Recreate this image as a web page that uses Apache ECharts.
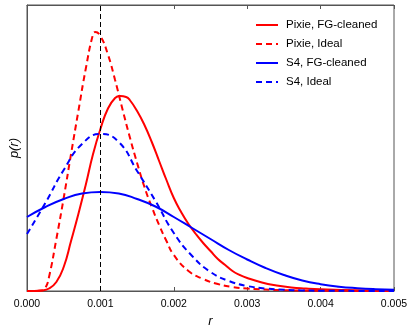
<!DOCTYPE html>
<html>
<head>
<meta charset="utf-8">
<script src="https://cdn.jsdelivr.net/npm/echarts@6/dist/echarts.min.js"></script>
<style>
html, body { margin: 0; padding: 0; background: #fff; }
#chart { width: 415px; height: 334px; }
</style>
</head>
<body>
<div id="chart"></div>
<script>
// r values (in units of 1e-3) and p(r), arbitrary units
const pixieFgR = [0, 0.1, 0.2, 0.3, 0.4, 0.5, 0.6, 0.7, 0.8, 0.9, 1.0, 1.1, 1.2, 1.27, 1.35, 1.4, 1.5, 1.6, 1.7, 1.8, 1.9, 2.0, 2.1, 2.2, 2.3, 2.4, 2.5, 2.6, 2.7, 2.8, 2.9, 3.0, 3.2, 3.4, 3.6, 3.8, 4.0, 4.5, 5.0]
const pixieFgP = [0, 0, 0.5, 2.5, 9, 24, 50, 77, 106, 137, 162, 182, 193, 195, 194, 191, 180, 166, 149, 130, 111, 93, 79, 67, 57, 48, 40, 32, 26, 20, 16, 13, 8.5, 5.5, 3.5, 2.5, 1.8, 0.8, 0.4]

const pixieIdR = [0, 0.1, 0.2, 0.25, 0.3, 0.4, 0.5, 0.6, 0.7, 0.8, 0.9, 0.93, 1.0, 1.1, 1.2, 1.3, 1.4, 1.5, 1.6, 1.7, 1.8, 1.9, 2.0, 2.2, 2.4, 2.6, 2.8, 3.0, 3.5, 4.0, 5.0]
const pixieIdP = [0, 0, 0.5, 3, 14, 52, 93, 137, 180, 222, 257, 259, 255, 237, 211, 182, 154, 128, 104, 84, 66, 50, 36, 20, 12, 7, 4, 2.5, 0.8, 0.3, 0]

const s4FgR = [0, 0.25, 0.5, 0.75, 1.0, 1.25, 1.5, 1.75, 2.0, 2.25, 2.5, 2.75, 3.0, 3.25, 3.5, 3.75, 4.0, 4.25, 4.5, 4.75, 5.0]
const s4FgP = [74, 84, 92, 97.5, 99, 97.5, 92, 84.5, 74, 63, 52, 41, 31.5, 23, 16, 10.5, 6.8, 4.3, 2.8, 1.8, 1.2]

const s4IdR = [0, 0.25, 0.5, 0.75, 1.0, 1.25, 1.5, 1.75, 2.0, 2.25, 2.5, 2.75, 3.0, 3.25, 3.5, 3.75, 4.0, 4.5, 5.0]
const s4IdP = [57, 88, 121, 147, 157, 149, 120, 90, 58, 35, 19, 10, 5, 2.5, 1.2, 0.6, 0.3, 0.1, 0]

const xTicks = [0, 0.001, 0.002, 0.003, 0.004, 0.005]
const rTrue = 0.001

function pairs(rs, ps) {
    return rs.map((r, i) => [r / 1000, ps[i]])
}

const chart = echarts.init(document.getElementById('chart'))
const font = 'Liberation Sans'
const dash = [6, 4]

function curve(name, color, type, rs, ps) {
    return {
        name: name,
        type: 'line',
        data: pairs(rs, ps),
        showSymbol: false,
        symbol: 'none',
        smooth: 0.5,
        lineStyle: { color: color, width: 2, type: type },
        itemStyle: { color: color },
        z: 3
    }
}

const series = [
    curve('Pixie, FG-cleaned', '#ff0000', 'solid', pixieFgR, pixieFgP),
    curve('Pixie, Ideal', '#ff0000', dash, pixieIdR, pixieIdP),
    curve('S4, FG-cleaned', '#0000ff', 'solid', s4FgR, s4FgP),
    curve('S4, Ideal', '#0000ff', dash, s4IdR, s4IdP)
]
// vertical marker at the true r
series[0].markLine = {
    silent: true,
    precision: 6,
    symbol: ['none', 'none'],
    label: { show: false },
    lineStyle: { color: '#000', width: 1, type: [5, 3] },
    data: [{ xAxis: rTrue }]
}

const axisCommon = {
    type: 'value',
    min: xTicks[0],
    max: xTicks[xTicks.length - 1],
    interval: 0.001,
    axisLine: { lineStyle: { color: '#555', width: 1 } },
    axisTick: { inside: true, length: 4, lineStyle: { color: '#555' } },
    splitLine: { show: false }
}

const option = {
    animation: false,
    backgroundColor: '#fff',
    grid: { left: 24, right: 21, top: 5, bottom: 43, show: true, borderColor: '#555', borderWidth: 1 },
    legend: {
        orient: 'vertical',
        left: 250,
        top: 14,
        itemWidth: 22,
        itemHeight: 12,
        itemGap: 7,
        itemStyle: { color: 'transparent', borderWidth: 0, opacity: 0 },
        textStyle: { fontFamily: font, fontSize: 11.5, color: '#000', padding: [0, 0, 0, 3] },
        data: series.map(s => s.name)
    },
    xAxis: [
        Object.assign({}, axisCommon, {
            position: 'bottom',
            name: 'r',
            nameLocation: 'middle',
            nameGap: 24,
            nameTextStyle: { fontFamily: font, fontSize: 13, fontStyle: 'italic', color: '#000' },
            axisLabel: {
                margin: 8,
                fontFamily: font,
                fontSize: 10.5,
                color: '#000',
                formatter: v => v.toFixed(3)
            }
        }),
        Object.assign({}, axisCommon, {
            position: 'top',
            axisLabel: { show: false }
        })
    ],
    yAxis: {
        type: 'value',
        min: 0,
        max: 286,
        name: 'p(r)',
        nameLocation: 'middle',
        nameGap: 6,
        nameTextStyle: { fontFamily: font, fontSize: 13, fontStyle: 'italic', color: '#000' },
        axisLine: { show: true, lineStyle: { color: '#555' } },
        axisTick: { show: false },
        axisLabel: { show: false },
        splitLine: { show: false }
    },
    series: series
}
chart.setOption(option)
</script>
</body>
</html>
